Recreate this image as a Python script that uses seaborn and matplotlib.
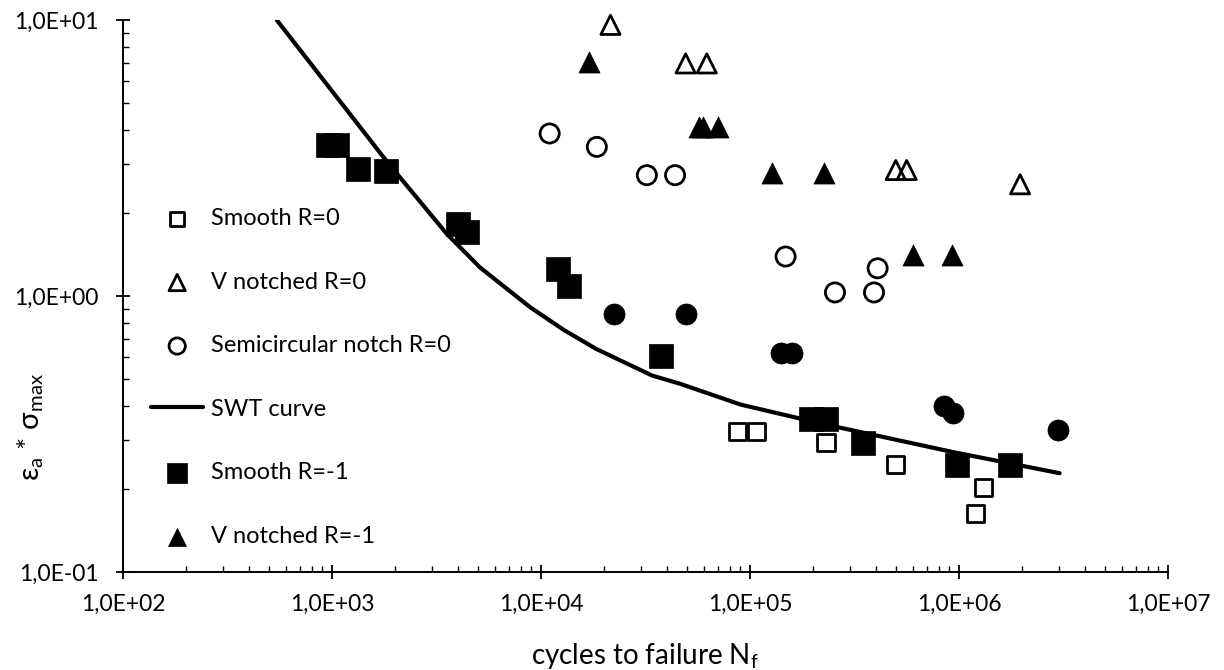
import matplotlib
matplotlib.use("Agg")
import matplotlib.pyplot as plt
import matplotlib.ticker as mticker
import seaborn as sns

# ---------------- data ----------------
smooth_r0_n = [87300, 107800, 231000, 499000, 1.31e6, 1.20e6]
smooth_r0_s = [0.324, 0.324, 0.294, 0.245, 0.203, 0.163]

vnotch_r0_n = [21500, 49200, 62100, 498000, 562000, 1.96e6]
vnotch_r0_s = [9.6, 6.96, 6.96, 2.86, 2.86, 2.54]

semi_r0_n = [11000, 18500, 32100, 43800, 148000, 408000, 255000, 392000]
semi_r0_s = [3.88, 3.47, 2.74, 2.74, 1.39, 1.26, 1.03, 1.03]

swt_n = [544, 1760, 2040, 3540, 5100, 8850, 12800, 18300,
         34000, 46200, 90400, 223000, 935000, 3.03e6]
swt_s = [10.0, 3.19, 2.78, 1.68, 1.27, 0.912, 0.755, 0.644,
         0.515, 0.481, 0.404, 0.344, 0.272, 0.228]

smooth_rm1_n = [960, 1052, 1336, 1807, 4018, 4405, 12100, 13600, 37400,
                196000, 232000, 348000, 980000, 1.76e6]
smooth_rm1_s = [3.52, 3.52, 2.88, 2.84, 1.83, 1.70, 1.25, 1.09, 0.604,
                0.357, 0.357, 0.294, 0.245, 0.245]

vnotch_rm1_n = [17000, 57200, 59400, 70500, 127000, 226000, 604000, 929000]
vnotch_rm1_s = [7.06, 4.10, 4.10, 4.10, 2.78, 2.78, 1.405, 1.405]

semi_rm1_n = [22400, 49200, 141000, 158000, 849000, 935000, 2.98e6]
semi_rm1_s = [0.863, 0.863, 0.623, 0.623, 0.398, 0.378, 0.326]

x_ticks = [1e2, 1e3, 1e4, 1e5, 1e6, 1e7]
x_tick_labels = ["1,0E+02", "1,0E+03", "1,0E+04", "1,0E+05", "1,0E+06", "1,0E+07"]
y_ticks = [1e-1, 1e0, 1e1]
y_tick_labels = ["1,0E-01", "1,0E+00", "1,0E+01"]

legend_labels = ["Smooth R=0", "V notched R=0", "Semicircular notch R=0",
                 "SWT curve", "Smooth R=-1", "V notched R=-1"]

# ---------------- style ----------------
sns.set_theme(style="ticks")
plt.rcParams["font.family"] = ["Lato", "DejaVu Sans"]
plt.rcParams["mathtext.fontset"] = "custom"
plt.rcParams["mathtext.rm"] = "Lato"
plt.rcParams["mathtext.default"] = "rm"

fig = plt.figure(figsize=(12.24, 6.7), dpi=100)
ax = fig.add_axes([123 / 1224, 1 - 572 / 670, 1045 / 1224, 552 / 670])

ax.set_xscale("log")
ax.set_yscale("log")

open_lw = 2.0

sns.scatterplot(x=smooth_r0_n, y=smooth_r0_s, marker="s", s=150, color="black",
                edgecolor="black", linewidth=open_lw, label=legend_labels[0], ax=ax)
c_sq_open = ax.collections[-1]
sns.scatterplot(x=vnotch_r0_n, y=vnotch_r0_s, marker="^", s=190, color="black",
                edgecolor="black", linewidth=open_lw, label=legend_labels[1], ax=ax)
c_tri_open = ax.collections[-1]
sns.scatterplot(x=semi_r0_n, y=semi_r0_s, marker="o", s=190, color="black",
                edgecolor="black", linewidth=open_lw, label=legend_labels[2], ax=ax)
c_circ_open = ax.collections[-1]
for c in (c_sq_open, c_tri_open, c_circ_open):
    c.set_facecolor("none")
    c.set_edgecolor("black")

sns.lineplot(x=swt_n, y=swt_s, estimator=None, sort=False, color="black",
             linewidth=3.0, label=legend_labels[3], ax=ax)

sns.scatterplot(x=smooth_rm1_n, y=smooth_rm1_s, marker="s", s=300, color="black",
                edgecolor="black", linewidth=0.5, label=legend_labels[4], ax=ax)
sns.scatterplot(x=vnotch_rm1_n, y=vnotch_rm1_s, marker="^", s=230, color="black",
                edgecolor="black", linewidth=0.5, label=legend_labels[5], ax=ax)
sns.scatterplot(x=semi_rm1_n, y=semi_rm1_s, marker="o", s=230, color="black",
                edgecolor="black", linewidth=0.5, ax=ax)

for c in ax.collections:
    c.set_clip_on(False)

ax.set_xlim(x_ticks[0], x_ticks[-1])
ax.set_ylim(y_ticks[0], y_ticks[-1])

ax.xaxis.set_major_locator(mticker.FixedLocator(x_ticks))
ax.xaxis.set_major_formatter(mticker.FixedFormatter(x_tick_labels))
ax.yaxis.set_major_locator(mticker.FixedLocator(y_ticks))
ax.yaxis.set_major_formatter(mticker.FixedFormatter(y_tick_labels))
ax.xaxis.set_minor_locator(mticker.LogLocator(base=10, subs=range(2, 10), numticks=20))
ax.yaxis.set_minor_locator(mticker.LogLocator(base=10, subs=range(2, 10), numticks=20))
ax.xaxis.set_minor_formatter(mticker.NullFormatter())
ax.yaxis.set_minor_formatter(mticker.NullFormatter())

ax.tick_params(axis="both", which="major", direction="inout", length=9.5, width=1.3,
               colors="black", labelsize=16.5)
ax.tick_params(axis="x", which="major", pad=11)
ax.tick_params(axis="y", which="major", pad=13)
ax.tick_params(axis="both", which="minor", direction="in", length=4.5, width=1.0,
               colors="black")

for side in ("top", "right"):
    ax.spines[side].set_visible(False)
for side in ("left", "bottom"):
    ax.spines[side].set_color("black")
    ax.spines[side].set_linewidth(1.4)

ax.set_xlabel("cycles to failure N$_{\\mathrm{f}}$", fontsize=20, color="black")
ax.xaxis.set_label_coords(0.5, -0.125)
ax.set_ylabel("ε$_{\\mathrm{a}}$ * σ$_{\\mathrm{max}}$", fontsize=21, color="black",
              va="center")
ax.yaxis.set_label_coords(-0.088, 0.263)

handles, labels = ax.get_legend_handles_labels()
order = [labels.index(l) for l in legend_labels]
leg = ax.legend([handles[i] for i in order], [labels[i] for i in order],
                loc="upper left", bbox_to_anchor=(0.027, 0.659), frameon=False,
                fontsize=17, labelspacing=1.8, handlelength=2.2,
                handletextpad=0.35, borderpad=0, borderaxespad=0,
                markerscale=0.85)
for t in leg.get_texts():
    t.set_color("black")

fig.savefig("out.png", dpi=100, facecolor="white")
